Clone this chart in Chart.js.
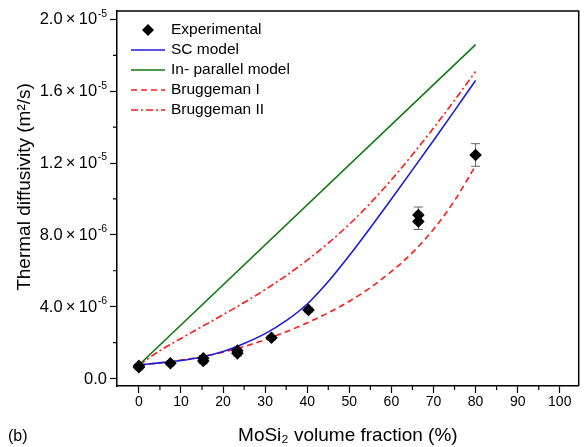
<!DOCTYPE html>
<html><head><meta charset="utf-8">
<script src="https://cdn.jsdelivr.net/npm/chart.js@4/dist/chart.umd.min.js"></script>
<style>html,body{margin:0;padding:0;background:#fff}#wrap{width:585px;height:447px;position:relative}</style>
</head><body><div id="wrap"><canvas id="c" width="585" height="447"></canvas></div>
<script>
// ---- data ----
const expX   = [0, 0, 7.5, 15.3, 15.3, 23.4, 23.4, 31.5, 40.3, 66.4, 66.4, 80];
const expY   = [0.70e-6, 0.63e-6, 0.85e-6, 1.13e-6, 0.97e-6, 1.55e-6, 1.40e-6, 2.27e-6, 3.82e-6, 9.10e-6, 8.75e-6, 12.45e-6];
const expErr = [0.1e-6, 0.1e-6, 0.12e-6, 0.15e-6, 0.15e-6, 0.15e-6, 0.15e-6, 0.12e-6, 0.12e-6, 0.45e-6, 0.45e-6, 0.63e-6];

const modelX  = [0, 5, 10, 15, 20, 25, 30, 35, 40, 45, 50, 55, 60, 65, 70, 75, 80];
const scY     = [0.75e-6, 0.87e-6, 1.0e-6, 1.2e-6, 1.5e-6, 1.95e-6, 2.5e-6, 3.22e-6, 4.15e-6, 5.4e-6, 6.85e-6, 8.4e-6, 10.0e-6, 11.62e-6, 13.26e-6, 14.92e-6, 16.6e-6];
const brugIY  = [0.75e-6, 0.87e-6, 1.02e-6, 1.21e-6, 1.46e-6, 1.78e-6, 2.16e-6, 2.6e-6, 3.1e-6, 3.66e-6, 4.3e-6, 5.06e-6, 5.96e-6, 7.01e-6, 8.31e-6, 9.91e-6, 11.86e-6];
const brugIIY = [0.75e-6, 1.55e-6, 2.23e-6, 2.89e-6, 3.55e-6, 4.23e-6, 4.95e-6, 5.73e-6, 6.59e-6, 7.54e-6, 8.59e-6, 9.77e-6, 11.07e-6, 12.47e-6, 13.95e-6, 15.5e-6, 17.1e-6];
const parX    = [0, 80];
const parY    = [0.75e-6, 18.6e-6];

const seriesNames = ['Experimental', 'SC model', 'In- parallel model', 'Bruggeman I', 'Bruggeman II'];

const xTicks = [0, 10, 20, 30, 40, 50, 60, 70, 80, 90, 100];
const xMinorTicks = [5, 15, 25, 35, 45, 55, 65, 75, 85, 95];
const yTicks = [0, 4e-6, 8e-6, 12e-6, 16e-6, 20e-6];
const yTickBase = ['0.0', '4.0\u2009×\u200910', '8.0\u2009×\u200910', '1.2\u2009×\u200910', '1.6\u2009×\u200910', '2.0\u2009×\u200910'];
const yTickExp  = ['', '-6', '-6', '-5', '-5', '-5'];
const yMinorTicks = [2e-6, 6e-6, 10e-6, 14e-6, 18e-6];

const xTitle = 'MoSi₂ volume fraction (%)';
const yTitle = 'Thermal diffusivity (m²/s)';
const panelLabel = '(b)';

// ---- helpers ----
const pts = (xs, ys) => xs.map((x, i) => ({x: x, y: ys[i]}));
const FONT = '"Liberation Sans", Arial, sans-serif';

const errorBars = {
  id: 'errorBars',
  beforeDatasetsDraw(chart) {
    const {ctx, scales: {x, y}} = chart;
    ctx.save();
    ctx.strokeStyle = '#666';
    ctx.lineWidth = 1;
    expX.forEach((xv, i) => {
      const px = x.getPixelForValue(xv);
      const pTop = y.getPixelForValue(expY[i] + expErr[i]);
      const pBot = y.getPixelForValue(expY[i] - expErr[i]);
      ctx.beginPath();
      ctx.moveTo(px, pTop); ctx.lineTo(px, pBot);
      ctx.moveTo(px - 4.5, pTop); ctx.lineTo(px + 4.5, pTop);
      ctx.moveTo(px - 4.5, pBot); ctx.lineTo(px + 4.5, pBot);
      ctx.stroke();
    });
    ctx.restore();
  }
};

const frameAndText = {
  id: 'frameAndText',
  afterDraw(chart) {
    const {ctx, chartArea: a, scales: {x, y}} = chart;
    ctx.save();
    ctx.strokeStyle = '#000';
    ctx.lineWidth = 1.5;
    ctx.beginPath();
    ctx.moveTo(a.left, a.top); ctx.lineTo(a.right, a.top); ctx.lineTo(a.right, a.bottom);
    ctx.stroke();
    ctx.lineWidth = 1.2;
    ctx.beginPath();
    xMinorTicks.forEach(v => {
      const px = x.getPixelForValue(v);
      ctx.moveTo(px, a.bottom); ctx.lineTo(px, a.bottom + 4);
    });
    yMinorTicks.forEach(v => {
      const py = y.getPixelForValue(v);
      ctx.moveTo(a.left, py); ctx.lineTo(a.left - 4, py);
    });
    ctx.stroke();
    ctx.fillStyle = '#000';
    // y tick labels with superscript exponents
    ctx.textAlign = 'right';
    ctx.textBaseline = 'middle';
    const rightX = a.left - 10;
    yTicks.forEach((v, i) => {
      const py = y.getPixelForValue(v);
      let w = 0;
      if (yTickExp[i]) {
        ctx.font = '10.5px ' + FONT;
        w = ctx.measureText(yTickExp[i]).width;
        ctx.fillText(yTickExp[i], rightX, py - 5.5);
      }
      ctx.font = '16.5px ' + FONT;
      ctx.fillText(yTickBase[i], rightX - w - (w ? 0.5 : 0), py + 0.5);
    });
    // y title
    ctx.save();
    ctx.translate(25, 187);
    ctx.rotate(-Math.PI / 2);
    ctx.textAlign = 'center';
    ctx.font = '19px ' + FONT;
    ctx.fillText(yTitle, 0, 0);
    ctx.restore();
    // panel label
    ctx.font = '16px ' + FONT;
    ctx.textAlign = 'left';
    ctx.fillText(panelLabel, 8, 437);
    ctx.restore();
  }
};

const customLegend = {
  id: 'customLegend',
  afterDatasetsDraw(chart) {
    const {ctx, chartArea: a} = chart;
    const x0 = a.left + 14, len = 34, tx = a.left + 54;
    ctx.save();
    ctx.font = '15.5px ' + FONT;
    ctx.textBaseline = 'middle';
    ctx.textAlign = 'left';
    chart.data.datasets.forEach((ds, i) => {
      const yy = a.top + 19 + i * 20;
      if (ds.pointRadius > 0) {
        const cx = x0 + len / 2, r = 6;
        ctx.fillStyle = ds.backgroundColor;
        ctx.beginPath();
        ctx.moveTo(cx - r, yy); ctx.lineTo(cx, yy - r); ctx.lineTo(cx + r, yy); ctx.lineTo(cx, yy + r);
        ctx.closePath(); ctx.fill();
      } else {
        ctx.strokeStyle = ds.borderColor;
        ctx.lineWidth = ds.borderWidth;
        ctx.setLineDash(ds.borderDash || []);
        ctx.beginPath(); ctx.moveTo(x0, yy); ctx.lineTo(x0 + len, yy); ctx.stroke();
        ctx.setLineDash([]);
      }
      ctx.fillStyle = '#000';
      ctx.fillText(ds.label, tx, yy);
    });
    ctx.restore();
  }
};

const lineDs = (label, xs, ys, color, dash) => ({
  label: label, data: pts(xs, ys), showLine: true, pointRadius: 0, pointHoverRadius: 0,
  borderColor: color, backgroundColor: color, borderWidth: 1.6, borderDash: dash,
  tension: 0.4, cubicInterpolationMode: 'monotone', fill: false
});

new Chart(document.getElementById('c'), {
  type: 'scatter',
  data: {
    datasets: [
      { label: seriesNames[0], data: pts(expX, expY), pointStyle: 'rectRot', pointRadius: 6.3,
        backgroundColor: '#000', borderColor: '#000', borderWidth: 0, showLine: false },
      lineDs(seriesNames[1], modelX, scY, '#1c1cd8', []),
      lineDs(seriesNames[2], parX, parY, '#0f7a0f', []),
      lineDs(seriesNames[3], modelX, brugIY, '#ff1a1a', [6, 4]),
      lineDs(seriesNames[4], modelX, brugIIY, '#ff1a1a', [7, 3, 2, 3])
    ]
  },
  options: {
    responsive: false, animation: false, devicePixelRatio: 1,
    layout: { padding: { top: 11, right: 3, left: 0, bottom: 0 } },
    plugins: { legend: { display: false }, tooltip: { enabled: false } },
    scales: {
      x: {
        type: 'linear', min: -5.2, max: 104.5,
        afterFit: s => { s.height = 61; },
        afterBuildTicks: s => { s.ticks = xTicks.map(v => ({value: v})); },
        grid: { display: true, drawOnChartArea: false, drawTicks: true, tickLength: 7, tickColor: '#000', tickWidth: 1.2 },
        border: { display: true, color: '#000', width: 1.5 },
        ticks: { color: '#000', font: { family: FONT, size: 14 }, padding: 1, maxRotation: 0, autoSkip: false },
        title: { display: true, text: xTitle, color: '#000', font: { family: FONT, size: 19 }, padding: { top: 0, bottom: 0 } }
      },
      y: {
        type: 'linear', min: -0.42e-6, max: 20.47e-6,
        afterFit: s => { s.width = 117; },
        afterBuildTicks: s => { s.ticks = yTicks.map(v => ({value: v})); },
        grid: { display: true, drawOnChartArea: false, drawTicks: true, tickLength: 7, tickColor: '#000', tickWidth: 1.2 },
        border: { display: true, color: '#000', width: 1.5 },
        ticks: { display: false },
        title: { display: false, text: yTitle }
      }
    }
  },
  plugins: [errorBars, customLegend, frameAndText]
});
</script></body></html>
